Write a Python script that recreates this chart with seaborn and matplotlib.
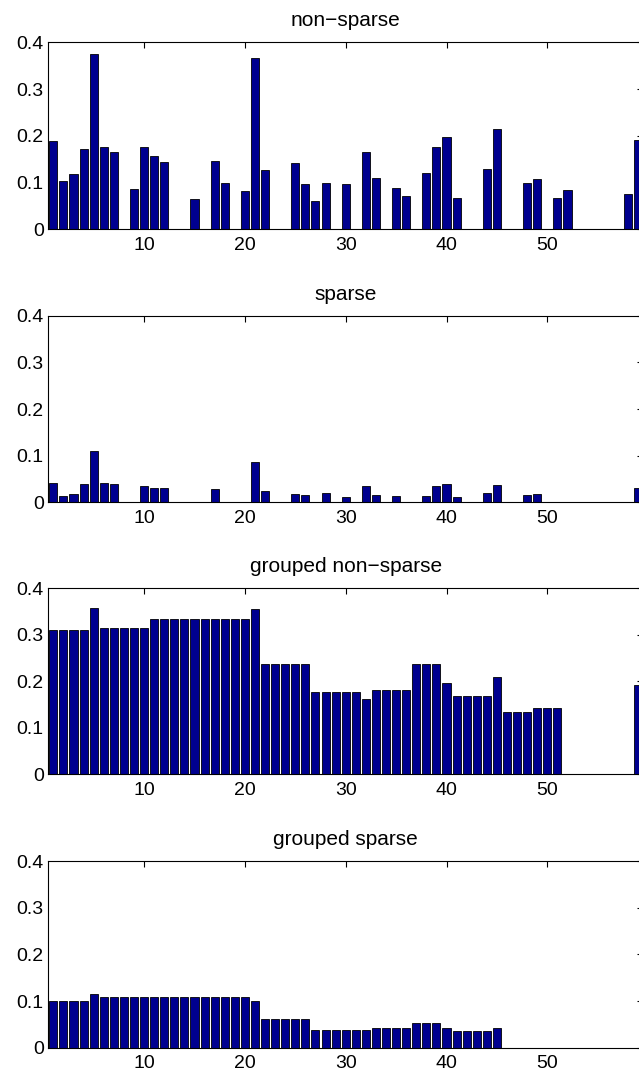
import numpy as np
import pandas as pd
import matplotlib
matplotlib.use("Agg")
import matplotlib.pyplot as plt
import seaborn as sns

# ---- data ----
positions = list(range(1, 60))

titles = ["non\u2212sparse", "sparse", "grouped non\u2212sparse", "grouped sparse"]

non_sparse = [0.188, 0.103, 0.119, 0.172, 0.376, 0.175, 0.166, 0.0, 0.087, 0.175,
              0.157, 0.144, 0.0, 0.0, 0.064, 0.0, 0.147, 0.099, 0.0, 0.081,
              0.366, 0.126, 0.0, 0.0, 0.142, 0.096, 0.061, 0.100, 0.0, 0.097,
              0.0, 0.166, 0.109, 0.0, 0.088, 0.071, 0.0, 0.121, 0.175, 0.197,
              0.068, 0.0, 0.0, 0.130, 0.214, 0.0, 0.0, 0.098, 0.108, 0.0,
              0.066, 0.083, 0.0, 0.0, 0.0, 0.0, 0.0, 0.076, 0.190]

sparse = [0.042, 0.014, 0.018, 0.040, 0.111, 0.042, 0.039, 0.0, 0.0, 0.036,
          0.031, 0.030, 0.0, 0.0, 0.0, 0.0, 0.028, 0.0, 0.0, 0.0,
          0.087, 0.024, 0.0, 0.0, 0.017, 0.016, 0.0, 0.019, 0.0, 0.012,
          0.0, 0.036, 0.016, 0.0, 0.014, 0.0, 0.0, 0.014, 0.034, 0.040,
          0.011, 0.0, 0.0, 0.021, 0.037, 0.0, 0.0, 0.016, 0.017, 0.0,
          0.0, 0.0, 0.0, 0.0, 0.0, 0.0, 0.0, 0.0, 0.030]

grouped_non_sparse = [0.310, 0.310, 0.310, 0.310, 0.357, 0.314, 0.314, 0.314, 0.314, 0.314,
                      0.335, 0.335, 0.335, 0.335, 0.335, 0.335, 0.335, 0.335, 0.335, 0.335,
                      0.356, 0.237, 0.237, 0.237, 0.237, 0.237, 0.177, 0.177, 0.177, 0.177,
                      0.177, 0.163, 0.181, 0.181, 0.181, 0.181, 0.237, 0.237, 0.237, 0.196,
                      0.168, 0.168, 0.168, 0.168, 0.210, 0.133, 0.133, 0.133, 0.143, 0.143,
                      0.143, 0.0, 0.0, 0.0, 0.0, 0.0, 0.0, 0.0, 0.191]

grouped_sparse = [0.101, 0.101, 0.101, 0.101, 0.114, 0.109, 0.109, 0.109, 0.109, 0.109,
                  0.109, 0.109, 0.109, 0.109, 0.109, 0.109, 0.109, 0.109, 0.109, 0.109,
                  0.101, 0.061, 0.061, 0.061, 0.061, 0.061, 0.038, 0.038, 0.038, 0.038,
                  0.038, 0.038, 0.042, 0.042, 0.042, 0.042, 0.052, 0.052, 0.052, 0.043,
                  0.036, 0.036, 0.036, 0.036, 0.042, 0.0, 0.0, 0.0, 0.0, 0.0,
                  0.0, 0.0, 0.0, 0.0, 0.0, 0.0, 0.0, 0.0, 0.0]

x_ticks = [10, 20, 30, 40, 50]
y_ticks = [0, 0.1, 0.2, 0.3, 0.4]
y_tick_labels = ["0", "0.1", "0.2", "0.3", "0.4"]

series = [non_sparse, sparse, grouped_non_sparse, grouped_sparse]

# ---- style ----
sns.set_style("white")
plt.rcParams['font.family'] = ['Liberation Sans', 'DejaVu Sans']
plt.rcParams['axes.linewidth'] = 0.8

fig = plt.figure(figsize=(6.39, 10.79), dpi=100)

W, H = 639.0, 1079.0
left_px = 48.3
right_px = 643.1
tops = [42.3, 315.7, 588.3, 861.0]
bottoms = [229.3, 502.3, 774.3, 1047.7]

bar_color = "#00008F"

for title, vals, top, bot in zip(titles, series, tops, bottoms):
    ax = fig.add_axes([left_px / W, 1 - bot / H, (right_px - left_px) / W, (bot - top) / H])
    df = pd.DataFrame({"pos": positions, "val": vals})
    sns.barplot(data=df, x="pos", y="val", ax=ax, native_scale=True, width=0.8,
                color=bar_color, saturation=1, errorbar=None,
                edgecolor="black", linewidth=0.6)
    ax.set_xlim(0.5, 59.5)
    ax.set_ylim(0, 0.4)
    ax.set_xticks(x_ticks)
    ax.set_xticklabels([str(t) for t in x_ticks])
    ax.set_yticks(y_ticks)
    ax.set_yticklabels(y_tick_labels)
    ax.set_xlabel("")
    ax.set_ylabel("")
    ax.tick_params(axis="both", direction="in", length=4, width=0.8, colors="black",
                   top=True, right=True, labelsize=14)
    ax.tick_params(axis="x", pad=5.5)
    ax.tick_params(axis="y", pad=3.3)
    for s in ax.spines.values():
        s.set_visible(True)
        s.set_color("black")
        s.set_linewidth(0.8)
    ax.set_title(title, fontsize=15, pad=11.5, color="black")

fig.savefig("out.png", dpi=100)
